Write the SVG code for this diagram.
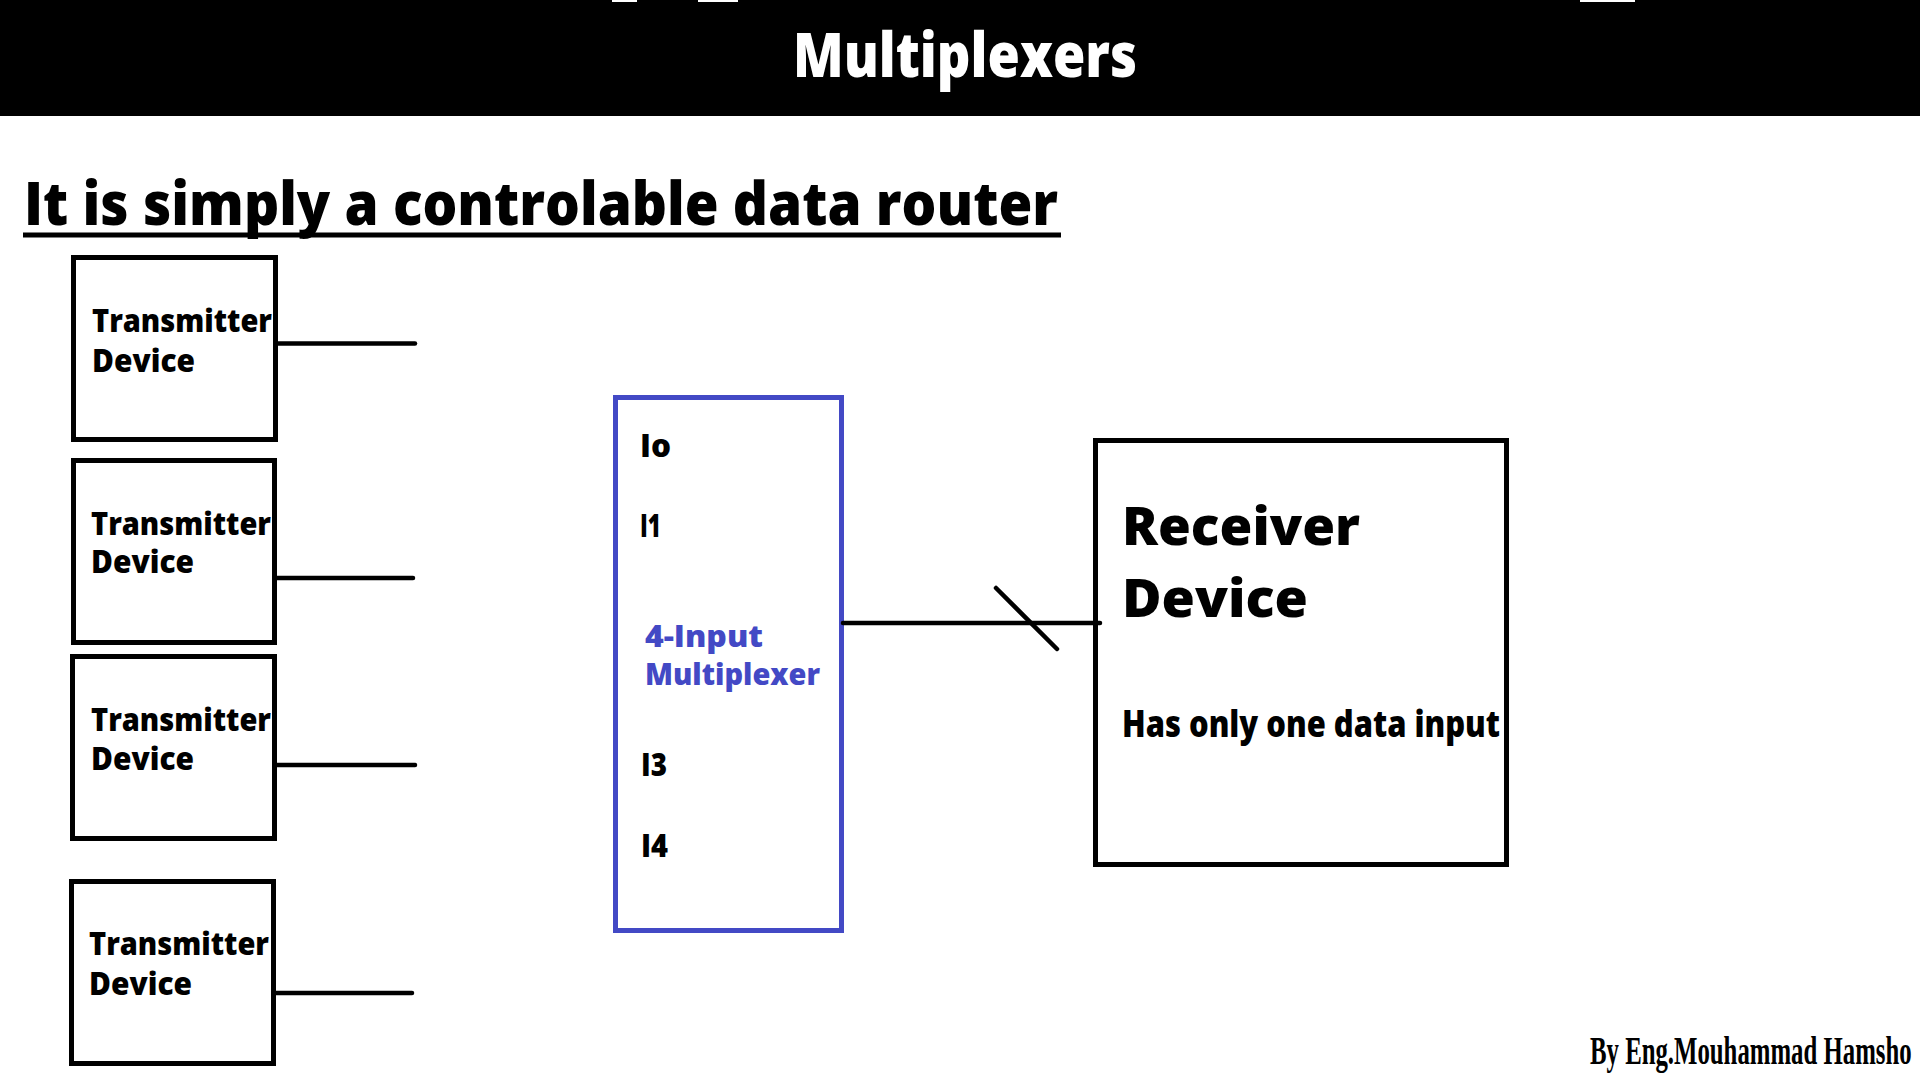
<svg xmlns="http://www.w3.org/2000/svg" width="1920" height="1080" viewBox="0 0 1920 1080">
<style>
.t{font-family:"Open Sans","Lato","Liberation Sans",sans-serif;font-weight:800;fill:#000}
.box{fill:#fff;stroke:#000;stroke-width:5}
.mux{fill:#fff;stroke:#4349C5;stroke-width:5}
.wire{stroke:#000;stroke-width:4.5;fill:none;stroke-linecap:round}
</style>
<rect x="0" y="0" width="1920" height="1080" fill="#fff"/>
<rect x="0" y="0" width="1920" height="116" fill="#000"/>
<rect x="612" y="0" width="25" height="2" fill="#fff"/>
<rect x="698" y="0" width="40" height="2" fill="#fff"/>
<rect x="1580" y="0" width="55" height="2" fill="#fff"/>
<text class="t" x="793" y="77" font-size="62" style="fill:#fff" textLength="344" lengthAdjust="spacingAndGlyphs">Multiplexers</text>
<text class="t" x="24" y="225" font-size="60" textLength="1034" lengthAdjust="spacingAndGlyphs">It is simply a controlable data router</text>
<line x1="23" y1="235" x2="1061" y2="235" stroke="#000" stroke-width="5"/>

<g id="tx1">
<rect class="box" x="73.5" y="257.5" width="202" height="182"/>
<text class="t" x="92" y="332" font-size="31" textLength="180" lengthAdjust="spacingAndGlyphs">Transmitter</text>
<text class="t" x="92" y="372" font-size="31" textLength="103" lengthAdjust="spacingAndGlyphs">Device</text>
</g>
<g id="tx2">
<rect class="box" x="73.5" y="460.5" width="201" height="182"/>
<text class="t" x="91" y="535" font-size="31" textLength="180" lengthAdjust="spacingAndGlyphs">Transmitter</text>
<text class="t" x="91" y="573" font-size="31" textLength="103" lengthAdjust="spacingAndGlyphs">Device</text>
</g>
<g id="tx3">
<rect class="box" x="72.5" y="656.5" width="202" height="182"/>
<text class="t" x="91" y="731" font-size="31" textLength="180" lengthAdjust="spacingAndGlyphs">Transmitter</text>
<text class="t" x="91" y="770" font-size="31" textLength="103" lengthAdjust="spacingAndGlyphs">Device</text>
</g>
<g id="tx4">
<rect class="box" x="71.5" y="881.5" width="202" height="182"/>
<text class="t" x="89" y="955" font-size="31" textLength="180" lengthAdjust="spacingAndGlyphs">Transmitter</text>
<text class="t" x="89" y="995" font-size="31" textLength="103" lengthAdjust="spacingAndGlyphs">Device</text>
</g>

<g id="mux">
<rect class="mux" x="615.5" y="397.5" width="226" height="533"/>
<text class="t" x="640" y="457" font-size="32" textLength="31" lengthAdjust="spacingAndGlyphs">Io</text>
<text class="t" x="640" y="537" font-size="32" textLength="21" lengthAdjust="spacingAndGlyphs">I1</text>
<text class="t" x="645" y="647" font-size="30" style="fill:#4349C5" textLength="118" lengthAdjust="spacingAndGlyphs">4-Input</text>
<text class="t" x="645" y="685" font-size="30" style="fill:#4349C5" textLength="175" lengthAdjust="spacingAndGlyphs">Multiplexer</text>
<text class="t" x="641" y="776" font-size="32" textLength="26" lengthAdjust="spacingAndGlyphs">I3</text>
<text class="t" x="641" y="857" font-size="32" textLength="27" lengthAdjust="spacingAndGlyphs">I4</text>
</g>

<g id="receiver">
<rect class="box" x="1095.5" y="440.5" width="411" height="424"/>
<text class="t" x="1122" y="545" font-size="53" textLength="238" lengthAdjust="spacingAndGlyphs">Receiver</text>
<text class="t" x="1122" y="617" font-size="53" textLength="186" lengthAdjust="spacingAndGlyphs">Device</text>
<text class="t" x="1122" y="737" font-size="37" textLength="378" lengthAdjust="spacingAndGlyphs">Has only one data input</text>
</g>

<g id="connectors">
<line class="wire" x1="278" y1="343.5" x2="415" y2="343.5"/>
<line class="wire" x1="277" y1="578" x2="413" y2="578"/>
<line class="wire" x1="277" y1="765" x2="415" y2="765"/>
<line class="wire" x1="276" y1="993" x2="412" y2="993"/>
<line class="wire" x1="843" y1="623" x2="1100" y2="623"/>
<line class="wire" x1="996" y1="588" x2="1057" y2="649"/>
</g>

<text transform="translate(1590,1064) scale(0.62,1)" x="0" y="0" font-family="Liberation Serif, serif" font-weight="700" font-size="40">By Eng.Mouhammad Hamsho</text>
</svg>
